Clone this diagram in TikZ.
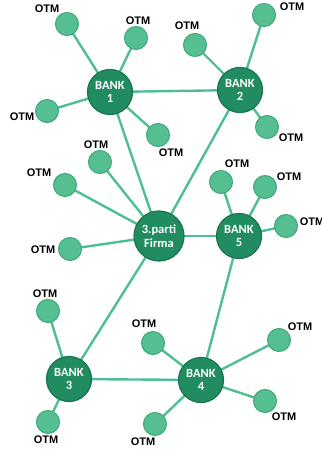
\documentclass[tikz,border=0pt]{standalone}
\usepackage{fontspec}
\setmainfont{Liberation Sans}
\newfontfamily\bankfont{Carlito}
\usetikzlibrary{backgrounds}
\definecolor{bankfill}{HTML}{218C5F}
\definecolor{bankedge}{HTML}{1A7450}
\definecolor{otmfill}{HTML}{56BF92}
\definecolor{otmedge}{HTML}{3DA878}
\definecolor{linkc}{HTML}{4FBF93}
\tikzset{
  bank/.style={circle,fill=bankfill,draw=bankedge,line width=1.2pt,minimum size=45pt,inner sep=0pt,
    text=white,font=\bankfont\bfseries\fontsize{12.5}{13.5}\selectfont,align=center},
  firma/.style={bank,minimum size=50pt},
  otm/.style={circle,fill=otmfill,draw=otmedge,line width=1pt,minimum size=23pt,inner sep=0pt},
  otmlabel/.style={font=\bfseries\fontsize{11}{12}\selectfont,inner sep=0pt},
  link/.style={draw=linkc,line width=2.4pt}
}
\begin{document}
\begin{tikzpicture}[x=1pt,y=-1pt]
\useasboundingbox (0,0) rectangle (321,449);
% banks
\node[bank] (b1) at (110,92) {BANK\\1};
\node[bank] (b2) at (240,90) {BANK\\2};
\node[firma] (f) at (159,236) {3.parti\\Firma};
\node[bank] (b5) at (239,236) {BANK\\5};
\node[bank] (b3) at (69,379) {BANK\\3};
\node[bank] (b4) at (201,380) {BANK\\4};
% OTM circles
\node[otm] (o11) at (67,24) {};
\node[otm] (o12) at (136,38) {};
\node[otm] (o13) at (47,111) {};
\node[otm] (o14) at (158,135) {};
\node[otm] (o21) at (195,45) {};
\node[otm] (o22) at (264,15) {};
\node[otm] (o23) at (267,127) {};
\node[otm] (of1) at (100,162) {};
\node[otm] (of2) at (65,185) {};
\node[otm] (of3) at (70,249) {};
\node[otm] (o51) at (221,182) {};
\node[otm] (o52) at (265,187) {};
\node[otm] (o53) at (286,226) {};
\node[otm] (o31) at (48,311) {};
\node[otm] (o32) at (48,422) {};
\node[otm] (o41) at (153,343) {};
\node[otm] (o42) at (155,424) {};
\node[otm] (o43) at (279,340) {};
\node[otm] (o44) at (265,401) {};
% labels
\node[otmlabel] (l11) at (47,9) {OTM};
\node[otmlabel] (l12) at (138,21) {OTM};
\node[otmlabel] (l13) at (22,117) {OTM};
\node[otmlabel] (l14) at (171,153) {OTM};
\node[otmlabel] (l21) at (187,26) {OTM};
\node[otmlabel] (l22) at (292,7) {OTM};
\node[otmlabel] (l23) at (291,138) {OTM};
\node[otmlabel] (lf1) at (96,145) {OTM};
\node[otmlabel] (lf2) at (39,173) {OTM};
\node[otmlabel] (lf3) at (43,250) {OTM};
\node[otmlabel] (l51) at (237,164) {OTM};
\node[otmlabel] (l52) at (289,177) {OTM};
\node[otmlabel] (l53) at (312,222) {OTM};
\node[otmlabel] (l31) at (45,294) {OTM};
\node[otmlabel] (l32) at (46,440) {OTM};
\node[otmlabel] (l41) at (144,324) {OTM};
\node[otmlabel] (l42) at (143,442) {OTM};
\node[otmlabel] (l43) at (300,327) {OTM};
\node[otmlabel] (l44) at (284,417) {OTM};
\begin{pgfonlayer}{background}
\fill[white] (0,0) rectangle (321,449);
\path[link] (b1.center) -- (b2.center);
\path[link] (b1.center) -- (f.center);
\path[link] (b2.center) -- (f.center);
\path[link] (f.center) -- (b5.center);
\path[link] (f.center) -- (b3.center);
\path[link] (b5.center) -- (b4.center);
\path[link] (b3.center) -- (b4.center);
\foreach \o in {o11,o12,o13,o14} \path[link] (b1.center) -- (\o.center);
\foreach \o in {o21,o22,o23} \path[link] (b2.center) -- (\o.center);
\foreach \o in {of1,of2,of3} \path[link] (f.center) -- (\o.center);
\foreach \o in {o51,o52,o53} \path[link] (b5.center) -- (\o.center);
\foreach \o in {o31,o32} \path[link] (b3.center) -- (\o.center);
\foreach \o in {o41,o42,o43,o44} \path[link] (b4.center) -- (\o.center);
\end{pgfonlayer}
\end{tikzpicture}
\end{document}
